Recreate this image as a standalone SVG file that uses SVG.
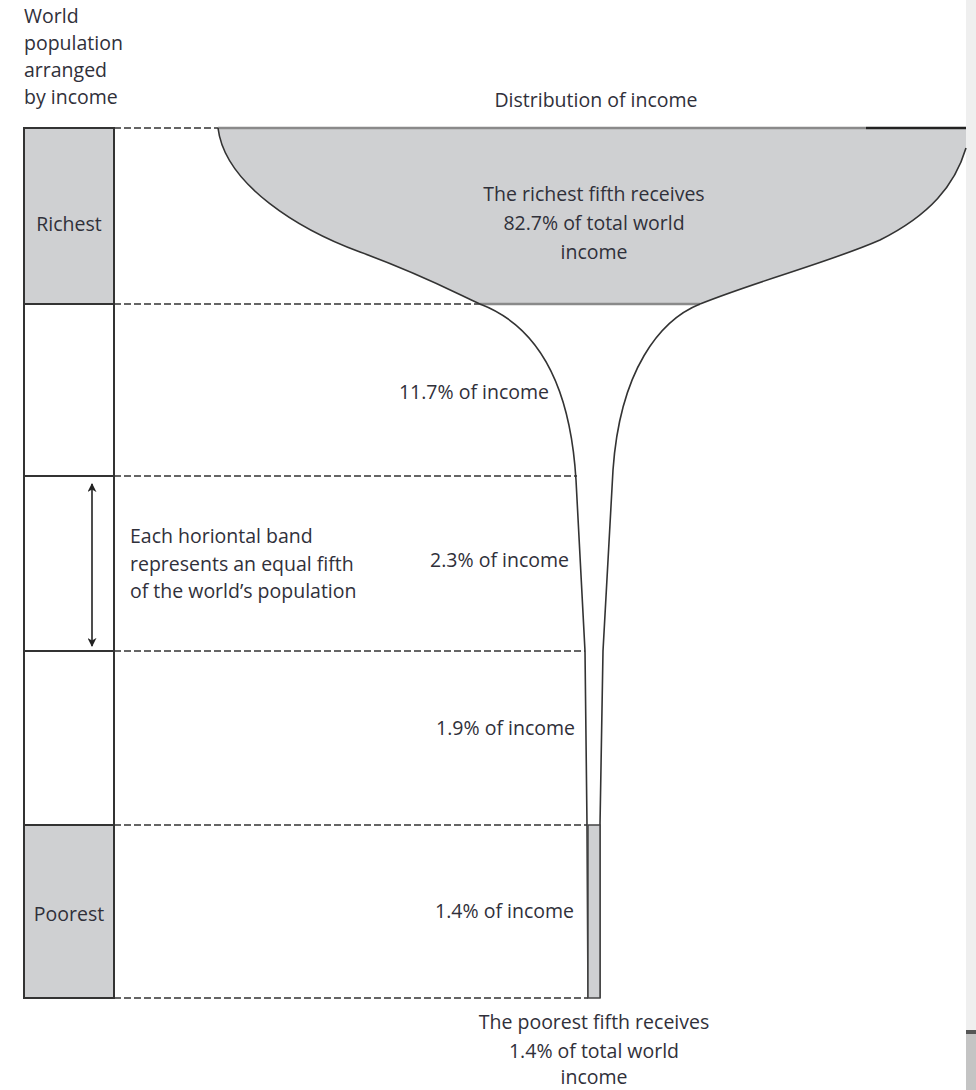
<svg xmlns="http://www.w3.org/2000/svg" width="976" height="1090" viewBox="0 0 976 1090">
<style>
text{font-family:"Open Sans","DejaVu Sans",sans-serif;font-size:19.5px;fill:#30303a}
.mid{text-anchor:middle}
.end{text-anchor:end}
.dash{stroke:#333;stroke-width:1.5;stroke-dasharray:7 3;fill:none}
.box{stroke:#333;stroke-width:2}
.curve{stroke:#333;stroke-width:1.6;fill:none}
</style>
<defs>
<marker id="ah" viewBox="0 0 10 10" refX="9" refY="5" markerWidth="9" markerHeight="9" orient="auto-start-reverse" markerUnits="userSpaceOnUse">
<path d="M0,0 L10,5 L0,10 L3,5 Z" fill="#222"/>
</marker>
</defs>
<rect width="976" height="1090" fill="#fff"/>
<g id="edge">
<rect x="966" y="0" width="10" height="1090" fill="#efefef"/>
<rect x="966" y="1030" width="10" height="60" fill="#c4c4c4"/>
<rect x="966" y="1030" width="10" height="4" fill="#555"/>
</g>
<g id="axis-label">
<text x="24" y="23">World</text>
<text x="24" y="50">population</text>
<text x="24" y="77">arranged</text>
<text x="24" y="104">by income</text>
</g>
<g id="title">
<text x="596" y="107" class="mid">Distribution of income</text>
</g>
<g id="population-column">
<rect x="24" y="128" width="90" height="176" fill="#cfd0d2"/>
<rect x="24" y="825" width="90" height="173" fill="#cfd0d2"/>
<rect x="24" y="128" width="90" height="870" fill="none" class="box"/>
<line x1="24" y1="304" x2="114" y2="304" class="box"/>
<line x1="24" y1="476" x2="114" y2="476" class="box"/>
<line x1="24" y1="651" x2="114" y2="651" class="box"/>
<line x1="24" y1="825" x2="114" y2="825" class="box"/>
<text x="69" y="231" class="mid">Richest</text>
<text x="69" y="921" class="mid">Poorest</text>
</g>
<g id="connectors">
<line x1="114" y1="128" x2="218" y2="128" class="dash"/>
<line x1="114" y1="304" x2="480" y2="304" class="dash"/>
<line x1="114" y1="476" x2="577" y2="476" class="dash"/>
<line x1="114" y1="651" x2="585" y2="651" class="dash"/>
<line x1="114" y1="825" x2="587" y2="825" class="dash"/>
<line x1="114" y1="998" x2="588" y2="998" class="dash"/>
<line x1="92" y1="484" x2="92" y2="646" stroke="#222" stroke-width="1.6" marker-start="url(#ah)" marker-end="url(#ah)"/>
</g>
<g id="richest-fifth">
<path d="M218,128 L966,128 L966,148 C955,185 930,215 880,240 C830,262 760,280 700,304 L480,304 C450,290 420,274 360,252 C300,230 225,185 218,128 Z" fill="#cfd0d2"/>
<line x1="218" y1="128" x2="866" y2="128" stroke="#8a8a8a" stroke-width="2.5"/>
<line x1="866" y1="128" x2="966" y2="128" stroke="#222" stroke-width="2.5"/>
<line x1="480" y1="304" x2="700" y2="304" stroke="#8a8a8a" stroke-width="2.5"/>
<path d="M218,128 C225,185 300,230 360,252 C420,274 450,290 480,304" class="curve"/>
<path d="M966,148 C955,185 930,215 880,240 C830,262 760,280 700,304" class="curve"/>
<text x="594" y="201" class="mid">The richest fifth receives</text>
<text x="594" y="230" class="mid">82.7% of total world</text>
<text x="594" y="259" class="mid">income</text>
</g>
<g id="stem">
<path d="M480,304 C535,325 570,380 576,480 L585,651 L587,825 L588,998" class="curve"/>
<path d="M700,304 C660,320 620,370 613,470 L603,651 L600,825 L600,998" class="curve"/>
<rect x="588" y="825" width="12" height="173" fill="#cfd0d2" stroke="#444" stroke-width="1.5"/>
</g>
<g id="band-labels">
<text x="549" y="399" class="end">11.7% of income</text>
<text x="569" y="567" class="end">2.3% of income</text>
<text x="575" y="735" class="end">1.9% of income</text>
<text x="574" y="918" class="end">1.4% of income</text>
</g>
<g id="band-note">
<text x="130" y="543">Each horiontal band</text>
<text x="130" y="571">represents an equal fifth</text>
<text x="130" y="598">of the world’s population</text>
</g>
<g id="poorest-note">
<text x="594" y="1029" class="mid">The poorest fifth receives</text>
<text x="594" y="1058" class="mid">1.4% of total world</text>
<text x="594" y="1084" class="mid">income</text>
</g>
</svg>
